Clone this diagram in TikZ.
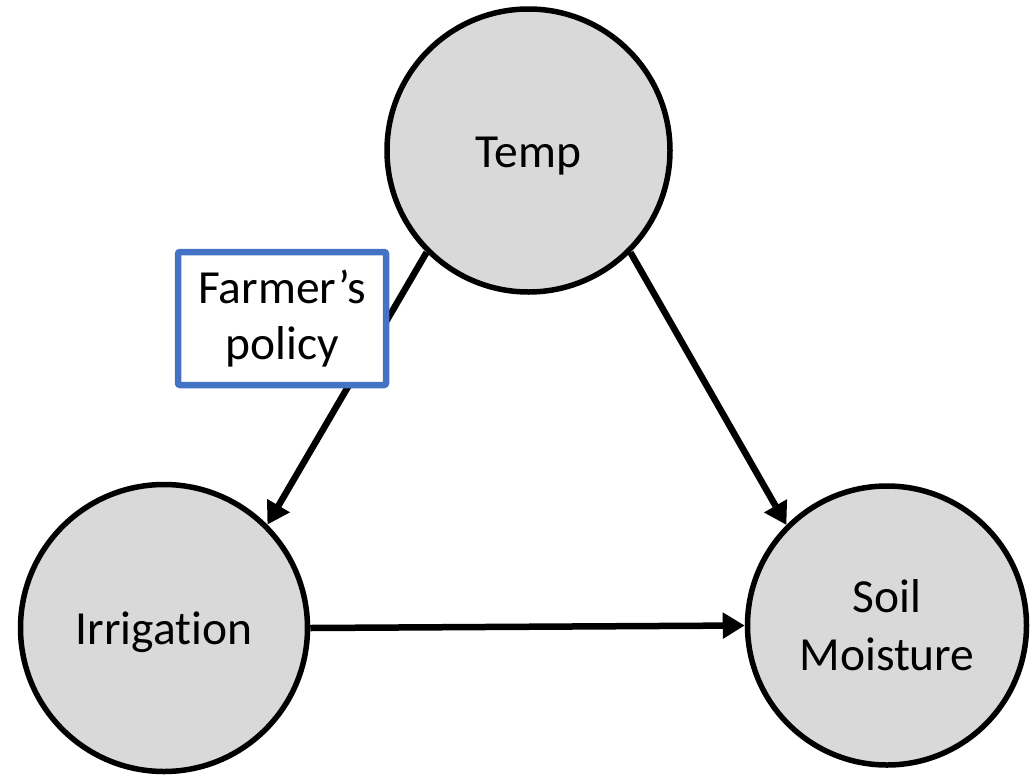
\documentclass[tikz,border=0pt]{standalone}
\usepackage{fontspec}
\setmainfont[Ligatures=NoCommon]{Carlito}
\usetikzlibrary{arrows.meta}
\definecolor{nodefill}{HTML}{D9D9D9}
\definecolor{boxblue}{HTML}{4472C4}
\tikzset{
  var/.style={circle, draw=black, line width=5.5pt, fill=nodefill, align=center, font=\fontsize{47.5}{58}\selectfont, inner sep=0pt},
  oneline/.style={text height=33pt, text depth=0pt},
  link/.style={line width=6.5pt, -{Triangle[length=22pt,width=25pt]}},
  policybox/.style={draw=boxblue, line width=6.5pt, fill=white, rounded corners=2pt, align=center, font=\fontsize{47.5}{56}\selectfont, minimum width=208pt, minimum height=133pt, inner sep=0pt}
}
\begin{document}
\begin{tikzpicture}[x=1pt,y=-1pt]
\useasboundingbox (0,0) rectangle (1031,774);
\node[var, oneline, minimum size=283pt] (T) at (528.5,150.5) {Temp};
\node[var, oneline, minimum size=287pt] (I) at (164,628) {Irrigation};
\node[var, minimum size=279pt] (S) at (887,625.5) {Soil\\Moisture};
\draw[link] (T.225) -- (I.45);
\draw[link] (T.-45) -- (S.135);
\draw[link] (I.east) -- (S.west);
\node[policybox] (P) at (282,318.5) {Farmer’s\\policy};
\end{tikzpicture}
\end{document}
